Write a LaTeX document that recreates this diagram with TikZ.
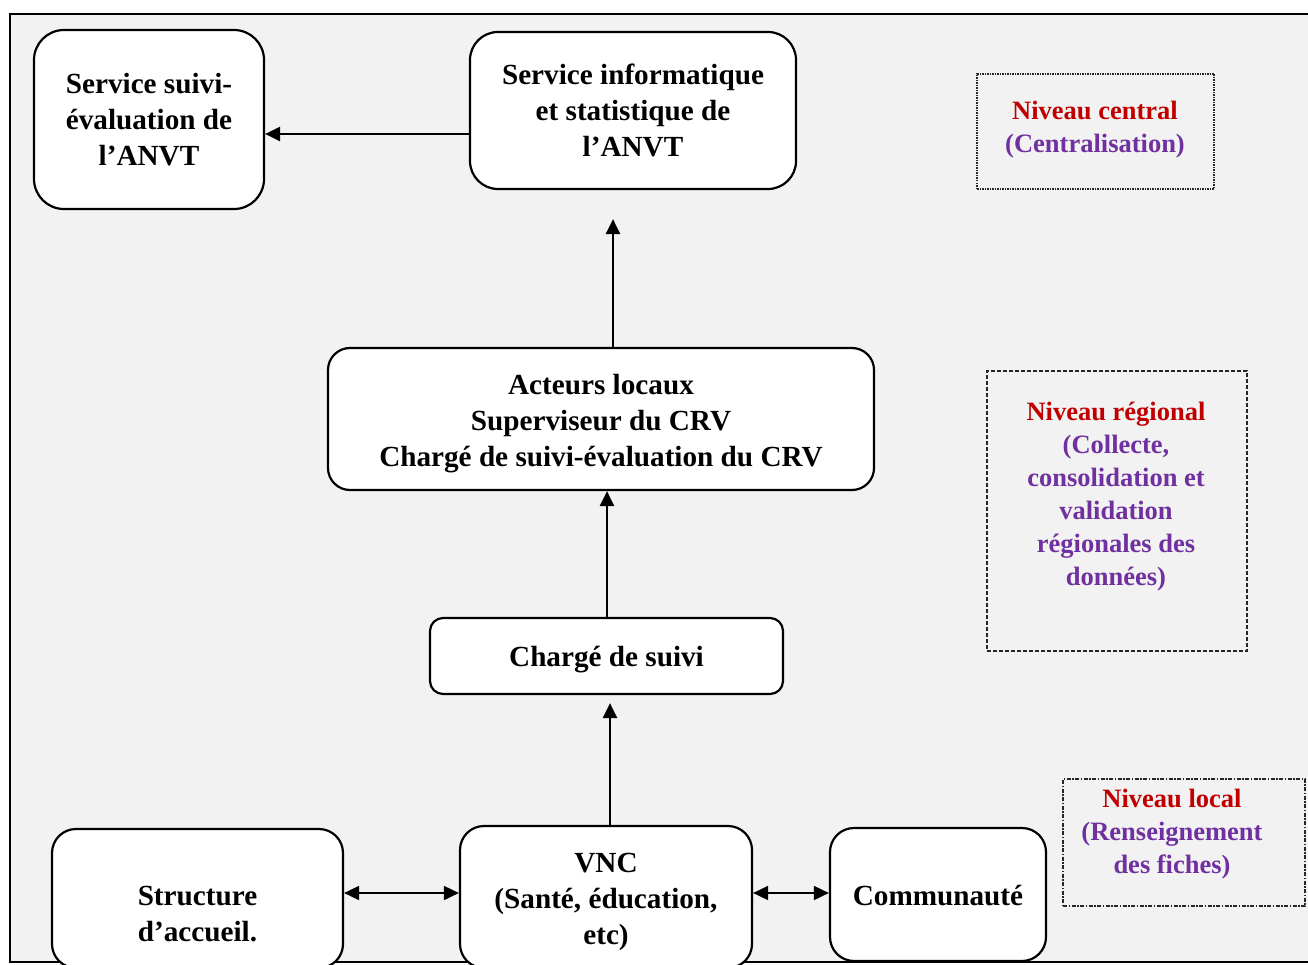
\documentclass[tikz,border=0pt]{standalone}
\usepackage{fontspec}
\setmainfont{Liberation Serif}
\usetikzlibrary{arrows.meta}
\definecolor{bg}{HTML}{F2F2F2}
\definecolor{nred}{HTML}{C00000}
\definecolor{npur}{HTML}{7030A0}
\begin{document}
\begin{tikzpicture}[x=1pt,y=-1pt,
  box/.style={draw,line width=2.2pt,fill=white,inner sep=0pt},
  btext/.style={align=center,font=\fontsize{29.2}{36}\selectfont\bfseries,inner sep=0pt},
  arr/.style={line width=2.4pt,-{Triangle[length=15pt,width=14pt]}},
  darr/.style={line width=1.8pt,{Triangle[length=15pt,width=14pt]}-{Triangle[length=15pt,width=14pt]}},
  note/.style={align=center,font=\fontsize{26.5}{33}\selectfont\bfseries,inner sep=0pt},
  notebox/.style={draw=black!85,fill=bg,inner sep=0pt}
]
\useasboundingbox (0,0) rectangle (1308,965);
\clip (0,0) rectangle (1308,965);
\draw[line width=2.5pt,fill=bg] (10,14) rectangle (1340,962);

% boxes
\node[box,rounded corners=30pt,minimum width=230pt,minimum height=179pt] (A) at (149,119.5) {};
\node[btext] (At) at (149,119.5) {Service suivi-\\évaluation de\\l’ANVT};
\node[box,rounded corners=28pt,minimum width=326pt,minimum height=157pt] (B) at (633,110.5) {};
\node[btext] (Bt) at (633,110.5) {Service informatique\\et statistique de\\l’ANVT};
\node[box,rounded corners=22pt,minimum width=546pt,minimum height=142pt] (C) at (601,419) {};
\node[btext] (Ct) at (601,423.5) {Acteurs locaux\\Superviseur du CRV\\Chargé de suivi-évaluation du CRV};
\node[box,rounded corners=13pt,minimum width=353pt,minimum height=76pt] (D) at (606.5,656) {};
\node[btext] (Dt) at (606.5,660) {Chargé de suivi};
\node[box,rounded corners=24pt,minimum width=292pt,minimum height=142pt] (E) at (606,897) {};
\node[btext] (Et) at (606,901.5) {VNC\\(Santé, éducation,\\etc)};
\node[box,rounded corners=24pt,minimum width=291pt,minimum height=139pt] (F) at (197.5,898.5) {};
\node[btext] (Ft) at (197.5,914) {Structure\\d’accueil.};
\node[box,rounded corners=24pt,minimum width=216pt,minimum height=133pt] (G) at (938,894.5) {};
\node[btext] (Gt) at (938,895.5) {Communauté};

% connectors
\coordinate (yab) at (0,134);
\coordinate (xcb) at (613,0);
\coordinate (xdc) at (607,0);
\coordinate (xed) at (610,0);
\coordinate (ybot) at (0,893);
\draw[arr] (B.west |- yab) -- (A.east |- yab);
\draw[arr,shorten >=29pt] (C.north -| xcb) -- (B.south -| xcb);
\draw[arr] (D.north -| xdc) -- (C.south -| xdc);
\draw[arr,shorten >=8pt] (E.north -| xed) -- (D.south -| xed);
\draw[darr] (F.east |- ybot) -- (E.west |- ybot);
\draw[darr] (E.east |- ybot) -- (G.west |- ybot);

% level annotations
\node[notebox,line width=1.4pt,dash pattern=on 1.5pt off 1pt,minimum width=237pt,minimum height=115pt] (NC) at (1095.5,131.5) {};
\node[note] (NCt) at (1095,130) {\textcolor{nred}{Niveau central}\\\textcolor{npur}{(Centralisation)}};

\node[notebox,line width=1.8pt,dash pattern=on 4pt off 2pt,minimum width=260pt,minimum height=280pt] (NR) at (1117,511) {};
\node[note,text=npur] (NRt) at (1116,497) {\textcolor{nred}{Niveau régional}\\(Collecte,\\consolidation et\\validation\\régionales des\\données)};

\node[notebox,line width=1.4pt,dash pattern=on 4pt off 1.5pt on 1.5pt off 1.5pt,minimum width=242pt,minimum height=127pt] (NL) at (1184,842.5) {};
\node[note,text=npur] (NLt) at (1172,834.5) {\textcolor{nred}{Niveau local}\\(Renseignement\\des fiches)};
\end{tikzpicture}
\end{document}
